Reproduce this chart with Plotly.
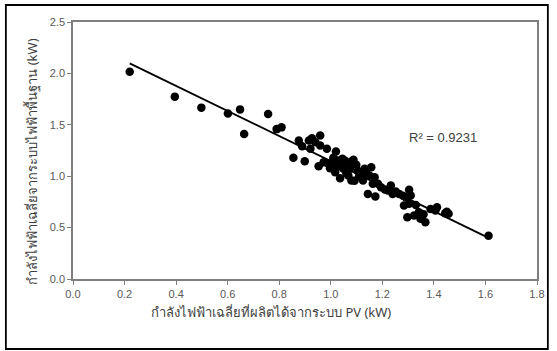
import numpy as np
import plotly.graph_objects as go

# average PV output (kW) vs average grid power drawn (kW)
pv_kw = [0.220, 0.395, 0.498, 0.601, 0.648, 0.664, 0.757, 0.790, 0.809, 0.855,
         0.876, 0.889, 0.899, 0.915, 0.927, 0.921, 0.940, 0.959, 0.959, 0.953,
         0.972, 0.985, 0.990, 0.997, 1.004, 1.010, 1.017, 1.020, 1.023, 1.029,
         1.036, 1.040, 1.045, 1.049, 1.055, 1.060, 1.068, 1.070, 1.074, 1.080,
         1.080, 1.088, 1.092, 1.099, 1.105, 1.110, 1.118, 1.125, 1.131, 1.138,
         1.144, 1.150, 1.157, 1.163, 1.170, 1.173, 1.183, 1.195, 1.210, 1.221,
         1.233, 1.240, 1.252, 1.265, 1.280, 1.284, 1.291, 1.297, 1.304, 1.304,
         1.310, 1.323, 1.330, 1.342, 1.348, 1.360, 1.367, 1.387, 1.406, 1.412,
         1.444, 1.457, 1.450, 1.612]
grid_kw = [2.015, 1.774, 1.667, 1.611, 1.650, 1.410, 1.605, 1.458, 1.475, 1.179,
           1.348, 1.292, 1.146, 1.348, 1.370, 1.267, 1.330, 1.397, 1.299, 1.097,
           1.136, 1.267, 1.120, 1.078, 1.136, 1.180, 1.039, 1.241, 1.088, 1.153,
           0.981, 1.120, 1.170, 1.072, 1.153, 1.030, 1.007, 1.110, 1.072, 1.143,
           0.958, 1.160, 0.955, 1.111, 1.050, 1.000, 1.040, 0.958, 1.072, 1.023,
           0.828, 1.007, 1.088, 0.926, 0.990, 0.802, 0.926, 0.893, 0.870, 0.861,
           0.909, 0.828, 0.850, 0.828, 0.810, 0.714, 0.795, 0.600, 0.867, 0.731,
           0.812, 0.617, 0.720, 0.649, 0.585, 0.630, 0.552, 0.682, 0.666, 0.698,
           0.639, 0.634, 0.655, 0.420]
r2_text = "R² = 0.9231"

# linear trendline fitted on the points
slope, intercept = np.polyfit(pv_kw, grid_kw, 1)
line_x = np.array([min(pv_kw), max(pv_kw)])
line_y = slope * line_x + intercept

tick_font = dict(family="Liberation Sans", size=11, color="#595959")
thai_font = dict(family="Noto Sans, DejaVu Sans", size=13, color="#404040")

fig = go.Figure()
fig.add_trace(go.Scatter(x=line_x, y=line_y, mode="lines",
                         line=dict(color="black", width=1.8), hoverinfo="skip"))
fig.add_trace(go.Scatter(x=pv_kw, y=grid_kw, mode="markers",
                         marker=dict(color="black", size=8.5)))

fig.update_layout(
    width=557, height=351,
    margin=dict(l=73, r=14, t=22, b=72),
    paper_bgcolor="white", plot_bgcolor="white",
    showlegend=False,
    xaxis=dict(range=[0, 1.8], tick0=0, dtick=0.2, tickformat=".1f",
               showgrid=False, zeroline=False, showline=True, mirror=True,
               linecolor="#7f7f7f", linewidth=1.5, ticks="outside", ticklen=4,
               tickcolor="#7f7f7f", tickfont=tick_font),
    yaxis=dict(range=[0, 2.5], tick0=0, dtick=0.5, tickformat=".1f",
               showgrid=False, zeroline=False, showline=True, mirror=True,
               linecolor="#7f7f7f", linewidth=1.5, ticks="outside", ticklen=4,
               tickcolor="#7f7f7f", tickfont=tick_font),
)

fig.add_annotation(x=1.436, y=1.377, xref="x", yref="y", text=r2_text,
                   showarrow=False, font=dict(family="Liberation Sans", size=13, color="#404040"))
fig.add_annotation(x=(274 - 73) / 470, y=(279 - 323) / 257, xref="paper", yref="paper",
                   text="กำลังไฟฟ้าเฉลี่ยที่ผลิตได้จากระบบ PV (kW)",
                   showarrow=False, font=thai_font)
fig.add_annotation(x=(20 - 73) / 470, y=(279 - 162) / 257, xref="paper", yref="paper",
                   text="กำลังไฟฟ้าเฉลี่ยจากระบบไฟฟ้าพื้นฐาน (kW)",
                   textangle=-90, showarrow=False, font=thai_font)

# outer chart border
fig.add_shape(type="rect", xref="paper", yref="paper",
              x0=(5 - 73) / 470, x1=(554 - 73) / 470,
              y0=(279 - 349) / 257, y1=(279 - 5) / 257,
              line=dict(color="black", width=1.8))

fig.write_html("out.html", config={"displayModeBar": False},
               post_script="document.body.style.margin='0';")
